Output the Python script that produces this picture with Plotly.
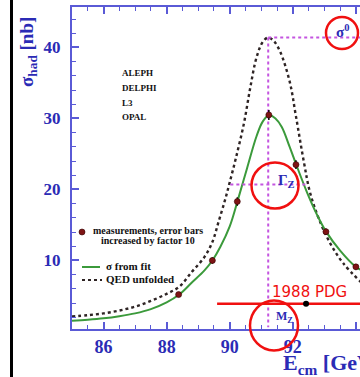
import plotly.graph_objects as go

# ---- data ----
E_meas = [88.38, 89.45, 90.24, 91.24, 92.10, 93.05, 94.00]
sig_meas = [5.2, 10.0, 18.3, 30.5, 23.5, 14.05, 9.1]
err_meas = [0.35, 0.45, 0.6, 0.7, 0.6, 0.45, 0.4]

E_fit = [85.0, 85.5, 86.0, 86.5, 87.0, 87.5, 88.0, 88.4, 88.8, 89.2, 89.45, 89.7,
         90.0, 90.25, 90.55, 90.85, 91.05, 91.25, 91.45, 91.65, 91.9, 92.1, 92.45,
         92.75, 93.05, 93.5, 94.0, 94.15]
sig_fit = [1.5, 1.65, 1.85, 2.15, 2.55, 3.15, 4.1, 5.2, 6.9, 8.6, 10.0, 11.9,
           14.8, 18.4, 23.0, 27.5, 29.6, 30.45, 30.0, 28.8, 26.0, 23.6, 19.6,
           16.6, 14.1, 11.4, 9.1, 8.7]

E_qed = [85.0, 85.5, 86.0, 86.5, 87.0, 87.5, 88.0, 88.4, 88.8, 89.2, 89.45, 89.65,
         89.85, 90.0, 90.2, 90.45, 90.65, 90.85, 91.05, 91.22, 91.4, 91.6, 91.9,
         92.1, 92.35, 92.55, 92.85, 93.2, 93.6, 94.15]
sig_qed = [2.1, 2.3, 2.55, 2.95, 3.5, 4.3, 5.3, 6.3, 8.4, 10.5, 12.6, 15.5,
           18.5, 21.0, 24.5, 29.3, 34.3, 38.6, 40.8, 41.4, 40.9, 39.4, 35.2,
           30.3, 23.9, 19.5, 15.6, 12.3, 9.6, 7.0]

M_Z = 91.22
sigma0 = 41.4
gamma_lo, gamma_hi = 90.02, 92.45
half_max = 20.7

pdg_mass = [92.42]
pdg_lo, pdg_hi = 89.6, 95.5
pdg_level = 3.9

x_ticks = [86, 88, 90, 92, 94]
y_ticks = [10, 20, 30, 40]

BLUE = "#2b2bb5"
AXBLUE = "#5a5ad6"
MAG = "#c455e0"
RED = "#f01010"
SERIF = "Liberation Serif"

# plot area (pixels): x 72..360, y 7..329 in a 360x377 page without body margin
def xp(px):
    return (px - 72) / 288.0

def yp(py):
    return (329 - py) / 322.0

fig = go.Figure()

fig.add_trace(go.Scatter(x=E_qed, y=sig_qed, mode="lines", line_shape="spline",
                         line=dict(color="#2e2424", width=2.4, dash="dot"),
                         showlegend=False, hoverinfo="skip"))
fig.add_trace(go.Scatter(x=E_fit, y=sig_fit, mode="lines", line_shape="spline",
                         line=dict(color="#3b9a3b", width=2),
                         showlegend=False, hoverinfo="skip"))

# magenta dotted guide lines
fig.add_trace(go.Scatter(x=[M_Z, M_Z], y=[sigma0, 0.6], mode="lines",
                         line=dict(color=MAG, width=2, dash="dot"), showlegend=False))
fig.add_trace(go.Scatter(x=[M_Z, 94.13], y=[sigma0, sigma0], mode="lines",
                         line=dict(color=MAG, width=2, dash="dot"), showlegend=False))
fig.add_trace(go.Scatter(x=[gamma_lo, gamma_hi], y=[half_max, half_max], mode="lines",
                         line=dict(color=MAG, width=2, dash="dot"), showlegend=False))

fig.add_trace(go.Scatter(x=E_meas, y=sig_meas, mode="markers",
                         marker=dict(color="#7e1414", size=6, line=dict(color="#300", width=0.6)),
                         error_y=dict(type="data", array=err_meas, color="black", thickness=1.5, width=0),
                         showlegend=False))

# 1988 PDG
fig.add_trace(go.Scatter(x=[pdg_lo, pdg_hi], y=[pdg_level, pdg_level], mode="lines",
                         line=dict(color=RED, width=2.5), showlegend=False))
fig.add_trace(go.Scatter(x=pdg_mass, y=[pdg_level], mode="markers",
                         marker=dict(color="black", size=6), showlegend=False))

ann = []
# arrowheads
ann.append(dict(x=gamma_lo, y=half_max, ax=6, ay=0, showarrow=True, arrowhead=5,
                arrowsize=1.6, arrowwidth=2, arrowcolor=MAG, text=""))
ann.append(dict(x=gamma_hi, y=half_max, ax=-6, ay=0, showarrow=True, arrowhead=5,
                arrowsize=1.6, arrowwidth=2, arrowcolor=MAG, text=""))
ann.append(dict(x=M_Z, y=0.6, ax=0, ay=-6, showarrow=True, arrowhead=5,
                arrowsize=1.6, arrowwidth=2, arrowcolor=MAG, text=""))

def ptext(text, px, py, size, color=BLUE, family=SERIF, xanchor="center", angle=0):
    ann.append(dict(xref="paper", yref="paper", x=xp(px), y=yp(py), text=text,
                    showarrow=False, xanchor=xanchor, yanchor="middle", textangle=angle,
                    font=dict(family=family, size=size, color=color, weight="bold")))

ptext("σ<sup>0</sup>", 342, 31, 15)
ptext("Γ<sub>Z</sub>", 286, 181, 15)
ptext("M<sub>Z</sub>", 284, 317, 12)
ptext("σ<sub>had</sub> [nb]", 28, 52, 19, angle=-90)
ptext("E<sub>cm</sub> [GeV]", 281, 364, 22, xanchor="left")

for name, py in zip(["ALEPH", "DELPHI", "L3", "OPAL"], [73, 88, 103, 117]):
    ptext(name, 120, py, 9, color="#111", xanchor="left")

ptext("measurements, error bars", 148, 230, 10, color="#111")
ptext("increased by factor 10", 148, 240, 10, color="#111")
ptext("σ from fit", 104, 266, 11, color="#111", xanchor="left")
ptext("QED unfolded", 104, 279, 11, color="#111", xanchor="left")

ann.append(dict(xref="paper", yref="paper", x=xp(309), y=yp(292), text="1988 PDG",
                showarrow=False, xanchor="center", yanchor="middle",
                font=dict(family="DejaVu Sans", size=15, color=RED)))

shapes = []
# left black border
shapes.append(dict(type="line", xref="paper", yref="paper", x0=xp(11.5), x1=xp(11.5),
                   y0=yp(-5), y1=yp(385), line=dict(color="black", width=3)))
# legend samples
shapes.append(dict(type="line", xref="paper", yref="paper", x0=xp(82), x1=xp(100),
                   y0=yp(267), y1=yp(267), line=dict(color="#3b9a3b", width=2)))
shapes.append(dict(type="line", xref="paper", yref="paper", x0=xp(82), x1=xp(102),
                   y0=yp(280), y1=yp(280), line=dict(color="#2e2424", width=2, dash="dot")))
shapes.append(dict(type="circle", xref="paper", yref="paper", x0=xp(79), x1=xp(85),
                   y0=yp(235), y1=yp(229), fillcolor="#7e1414", line=dict(color="#300", width=0.6)))
# red circles
for cx, cy, rx, ry in [(342, 33, 16, 16), (275, 185.5, 23.5, 23), (274, 325.5, 24, 25)]:
    shapes.append(dict(type="circle", xref="paper", yref="paper",
                       x0=xp(cx - rx), x1=xp(cx + rx), y0=yp(cy + ry), y1=yp(cy - ry),
                       line=dict(color=RED, width=2.5)))

fig.update_layout(
    width=360, height=377,
    margin=dict(l=72, r=0, t=7, b=48, autoexpand=False),
    paper_bgcolor="white", plot_bgcolor="white",
    annotations=ann, shapes=shapes,
    xaxis=dict(range=[85.0, 94.13], tickvals=x_ticks, ticks="inside", ticklen=7,
               tickwidth=1.5, tickcolor=AXBLUE, showline=True, linecolor=AXBLUE,
               linewidth=2, mirror="ticks", showgrid=False, zeroline=False,
               automargin=False,
               minor=dict(dtick=0.5, tick0=86, ticks="inside", ticklen=4, tickcolor=AXBLUE, tickwidth=1.2),
               tickfont=dict(family=SERIF, size=18, color=BLUE, weight="bold")),
    yaxis=dict(range=[0.35, 45.7], tickvals=y_ticks, ticks="inside", ticklen=7,
               tickwidth=1.5, tickcolor=AXBLUE, showline=True, linecolor=AXBLUE,
               linewidth=2, showgrid=False, zeroline=False, ticklabelstandoff=6,
               automargin=False,
               minor=dict(dtick=2, tick0=0, ticks="inside", ticklen=4, tickcolor=AXBLUE, tickwidth=1.2),
               tickfont=dict(family=SERIF, size=17, color=BLUE, weight="bold")),
)

fig.write_html("out.html", config={"displayModeBar": False},
               post_script="document.body.style.margin='0';document.body.style.overflow='hidden';")
